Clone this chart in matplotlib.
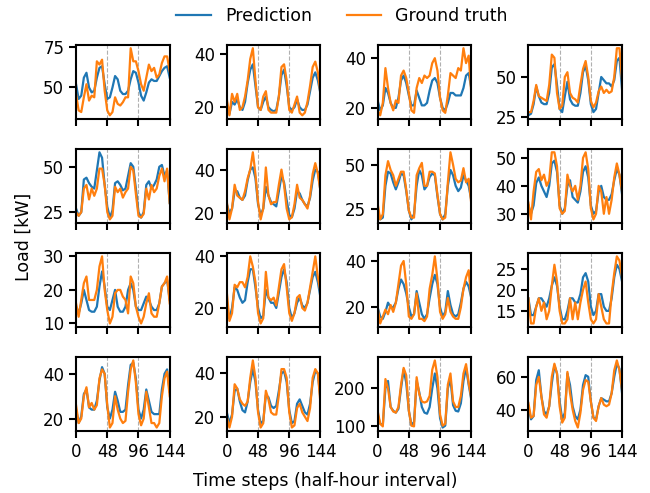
import numpy as np
import matplotlib
matplotlib.use("Agg")
import matplotlib.pyplot as plt
from matplotlib.ticker import MaxNLocator

# time steps (sampled every 4 half-hour steps over 3 days)
steps = list(range(0, 145, 4))
xticks = [0, 48, 96, 144]

# row 1
pred_01 = [52, 43, 45, 56, 59, 50, 47, 48, 56, 62, 63, 52, 43, 44, 50, 57, 55, 48, 46, 46, 48, 55, 60, 59, 53, 45, 42, 47, 53, 55, 54, 54, 57, 60, 62, 63, 56]
true_01 = [46, 36, 35, 44, 52, 42, 45, 44, 66, 64, 67, 48, 36, 33, 35, 44, 40, 39, 41, 44, 44, 74, 66, 66, 60, 52, 48, 56, 64, 60, 62, 56, 58, 65, 69, 69, 60]
pred_02 = [20, 17.5, 22, 21, 23, 20, 19, 22, 29, 34, 36, 28, 20, 19, 22, 24, 20, 19, 18.5, 19, 24, 32, 34, 28, 20, 19, 20, 23, 20, 19, 19, 21, 26, 31, 33, 30, 25]
true_02 = [23, 17, 25, 22, 25, 19, 20, 24, 30, 38, 42, 30, 20, 19, 24, 26, 19, 18, 18, 18, 24, 35, 36, 30, 19, 18, 21, 24, 18, 17, 18, 22, 28, 35, 37, 33, 25]
pred_03 = [23, 19, 21, 28, 26, 22, 20, 20, 24, 31, 33, 30, 25, 21, 21, 27, 24, 21, 21, 22, 27, 31, 32, 30, 24, 20, 19, 22, 26, 26, 25, 25, 25, 28, 33, 34, 28]
true_03 = [19, 17, 22, 36, 28, 22, 19, 23, 22, 33, 35, 32, 26, 19, 18, 28, 32, 30, 33, 32, 33, 38, 40, 35, 24, 19, 18, 25, 34, 33, 32, 36, 35, 44, 38, 41, 26]
pred_04 = [26, 27, 33, 44, 38, 34, 33, 33, 40, 56, 58, 45, 30, 28, 38, 47, 36, 33, 32, 32, 40, 53, 57, 48, 33, 28, 30, 40, 50, 48, 46, 46, 44, 48, 60, 62, 42]
true_04 = [28, 28, 35, 45, 38, 37, 36, 35, 45, 64, 62, 40, 30, 32, 50, 53, 40, 37, 36, 34, 45, 55, 60, 50, 35, 31, 34, 41, 44, 40, 42, 40, 41, 50, 68, 68, 48]

# row 2
pred_05 = [27, 23, 25, 43, 44, 41, 39, 38, 48, 58, 55, 40, 28, 22, 26, 41, 42, 40, 37, 38, 45, 52, 50, 38, 25, 22, 25, 40, 42, 38, 40, 43, 50, 51, 45, 48, 30]
true_05 = [25, 23, 25, 38, 40, 32, 38, 34, 38, 49, 49, 40, 25, 21, 23, 39, 36, 38, 33, 36, 38, 50, 48, 35, 23, 22, 24, 38, 32, 40, 36, 38, 45, 49, 42, 49, 30]
pred_06 = [24, 20, 22, 30, 30, 27, 26, 28, 35, 40, 41, 36, 24, 19, 22, 32, 28, 25, 24, 23, 30, 37, 34, 26, 19, 18, 22, 30, 29, 26, 24, 23, 27, 35, 40, 39, 30]
true_06 = [25, 17, 22, 33, 28, 27, 26, 30, 36, 40, 48, 38, 25, 17, 22, 41, 28, 24, 25, 25, 33, 40, 33, 22, 17, 18, 24, 33, 27, 26, 24, 22, 28, 38, 43, 38, 30]
pred_07 = [25, 19, 20, 38, 46, 45, 40, 36, 40, 45, 44, 35, 24, 19, 22, 38, 47, 44, 36, 38, 43, 45, 44, 32, 22, 19, 22, 38, 47, 44, 38, 35, 37, 44, 41, 38, 30]
true_07 = [28, 19, 22, 44, 52, 47, 44, 38, 42, 46, 46, 36, 24, 20, 20, 44, 48, 51, 38, 38, 46, 46, 45, 33, 22, 19, 20, 40, 57, 50, 42, 40, 41, 48, 40, 42, 28]
pred_08 = [33, 30, 33, 41, 43, 40, 38, 36, 40, 48, 49, 45, 33, 30, 32, 40, 42, 36, 35, 34, 38, 45, 47, 43, 33, 30, 31, 38, 40, 36, 35, 35, 37, 42, 46, 44, 37]
true_08 = [34, 28, 38, 45, 46, 42, 44, 40, 42, 52, 52, 47, 32, 30, 31, 44, 40, 38, 40, 35, 40, 50, 52, 46, 32, 28, 30, 40, 38, 30, 36, 30, 35, 43, 48, 44, 38]

# row 3
pred_09 = [15, 13, 16, 20, 17, 14, 13.5, 13.5, 15, 21, 25.5, 21, 15, 14, 17, 20, 15, 13.5, 13.5, 15, 20, 22, 20, 15, 14, 14, 16, 18, 17, 15, 14, 14, 16, 21, 22, 23, 17]
true_09 = [16, 12, 17, 22, 24, 17, 17, 17, 20, 27, 30, 20, 14, 10, 12, 19, 20, 20, 18, 17, 13, 24, 22, 15, 12, 10, 12, 16, 19, 13, 12, 12, 16, 21, 22, 24, 16]
pred_10 = [20, 16, 20, 28, 27, 24, 22, 23, 30, 35, 35, 28, 20, 16, 17, 27, 24, 22, 22, 20, 26, 32, 35, 30, 20, 16, 18, 22, 24, 21, 20, 22, 27, 32, 34, 30, 24]
true_10 = [26, 15, 18, 29, 28, 30, 30, 28, 32, 40, 36, 30, 18, 14, 16, 34, 24, 23, 24, 21, 28, 35, 37, 28, 18, 15, 18, 24, 25, 20, 19, 22, 28, 34, 40, 32, 26]
pred_11 = [20, 16, 15, 18, 22, 20, 20, 22, 28, 32, 30, 26, 20, 16, 17, 27, 22, 17, 15, 17, 24, 30, 34, 30, 20, 16, 18, 27, 21, 17, 16, 17, 22, 28, 31, 29, 24]
true_11 = [20, 13, 16, 19, 17, 21, 18, 22, 30, 38, 40, 30, 16, 15, 17, 26, 15, 15, 14, 16, 28, 34, 42, 32, 18, 15, 17, 24, 18, 16, 15, 15, 20, 28, 33, 36, 24]
pred_12 = [18, 14, 14, 16, 18, 18, 17, 16, 18, 21, 23, 21, 16, 13, 13, 15, 18, 18, 17, 17, 19, 23, 24, 22, 16, 14, 15, 19, 19, 16, 15, 15, 18, 23, 26, 25, 22]
true_12 = [18, 12, 12, 16, 18, 15, 17, 13, 15, 21, 26, 22, 15, 12, 12, 13, 18, 13, 17, 13, 17, 20, 22, 17, 13, 12, 13, 19, 16, 13, 12, 12, 19, 24, 28, 27, 23]

# row 4
pred_13 = [24, 18, 21, 31, 33, 25, 24, 24, 28, 37, 43, 40, 25, 20, 24, 32, 28, 23, 23, 24, 35, 44, 45, 38, 24, 20, 24, 33, 28, 23, 22, 22, 22, 33, 40, 42, 32]
true_13 = [26, 18, 20, 30, 34, 25, 27, 24, 26, 38, 42, 40, 26, 16, 18, 30, 24, 20, 18, 19, 32, 42, 46, 36, 22, 17, 20, 32, 25, 18, 18, 16, 18, 30, 38, 41, 30]
pred_14 = [22, 17, 21, 32, 33, 27, 23, 22, 27, 36, 42, 36, 23, 17, 18, 30, 29, 25, 24, 25, 32, 40, 41, 36, 23, 17, 18, 26, 28, 25, 22, 21, 26, 36, 41, 40, 28]
true_14 = [20, 15, 20, 35, 33, 28, 26, 25, 27, 38, 46, 38, 22, 15, 17, 32, 28, 22, 21, 21, 30, 42, 42, 38, 22, 15, 16, 24, 26, 22, 20, 18, 24, 38, 42, 40, 26]
pred_15 = [130, 105, 102, 200, 220, 150, 140, 135, 145, 200, 250, 215, 140, 102, 110, 220, 190, 150, 135, 132, 150, 200, 240, 200, 120, 95, 100, 200, 225, 155, 140, 138, 160, 220, 255, 210, 170]
true_15 = [140, 105, 98, 225, 200, 150, 138, 135, 150, 210, 255, 235, 140, 100, 98, 230, 185, 165, 162, 165, 180, 250, 275, 230, 130, 100, 105, 210, 240, 165, 150, 150, 180, 240, 265, 215, 175]
pred_16 = [42, 34, 36, 58, 64, 48, 39, 37, 42, 56, 67, 62, 45, 34, 38, 62, 55, 42, 36, 34, 40, 55, 61, 60, 45, 35, 34, 42, 47, 46, 45, 45, 50, 60, 68, 65, 50]
true_16 = [44, 35, 36, 55, 60, 48, 37, 35, 42, 60, 68, 62, 42, 32, 35, 63, 50, 40, 33, 29, 38, 52, 58, 57, 45, 35, 33, 42, 47, 43, 42, 43, 50, 64, 70, 64, 52]

predictions = [pred_01, pred_02, pred_03, pred_04, pred_05, pred_06, pred_07, pred_08,
               pred_09, pred_10, pred_11, pred_12, pred_13, pred_14, pred_15, pred_16]
truths = [true_01, true_02, true_03, true_04, true_05, true_06, true_07, true_08,
          true_09, true_10, true_11, true_12, true_13, true_14, true_15, true_16]

plt.rcParams["font.size"] = 12
plt.rcParams["axes.linewidth"] = 1.5
plt.rcParams["xtick.major.size"] = 5
plt.rcParams["ytick.major.size"] = 5
plt.rcParams["xtick.major.width"] = 1.5
plt.rcParams["ytick.major.width"] = 1.5

fig, axes = plt.subplots(4, 4, figsize=(6.5, 4.93), dpi=100)
plt.subplots_adjust(left=0.117, right=0.957, top=0.909, bottom=0.126,
                    wspace=0.61, hspace=0.41)

for i, ax in enumerate(axes.flat):
    for v in (48, 96):
        ax.axvline(v, color="#b0b0b0", ls="--", lw=0.8, zorder=0)
    ax.plot(steps, predictions[i], color="#1f77b4", lw=1.6, label="Prediction")
    ax.plot(steps, truths[i], color="#ff7f0e", lw=1.6, label="Ground truth")
    ax.set_xlim(0, 144)
    ax.set_xticks(xticks)
    ax.yaxis.set_major_locator(MaxNLocator(nbins=2, steps=[1, 2, 2.5, 5, 10]))
    if i < 12:
        ax.tick_params(labelbottom=False)

handles, labels = axes[0, 0].get_legend_handles_labels()
fig.legend(handles, labels, loc="center", bbox_to_anchor=(0.526, 0.968),
           ncol=2, frameon=False, fontsize=12.5)
fig.text(0.037, 0.519, "Load [kW]", rotation=90, ha="center", va="center", fontsize=12.5)
fig.text(0.5, 0.024, "Time steps (half-hour interval)", ha="center", va="center", fontsize=12.5)

plt.savefig("out.png", dpi=100)
